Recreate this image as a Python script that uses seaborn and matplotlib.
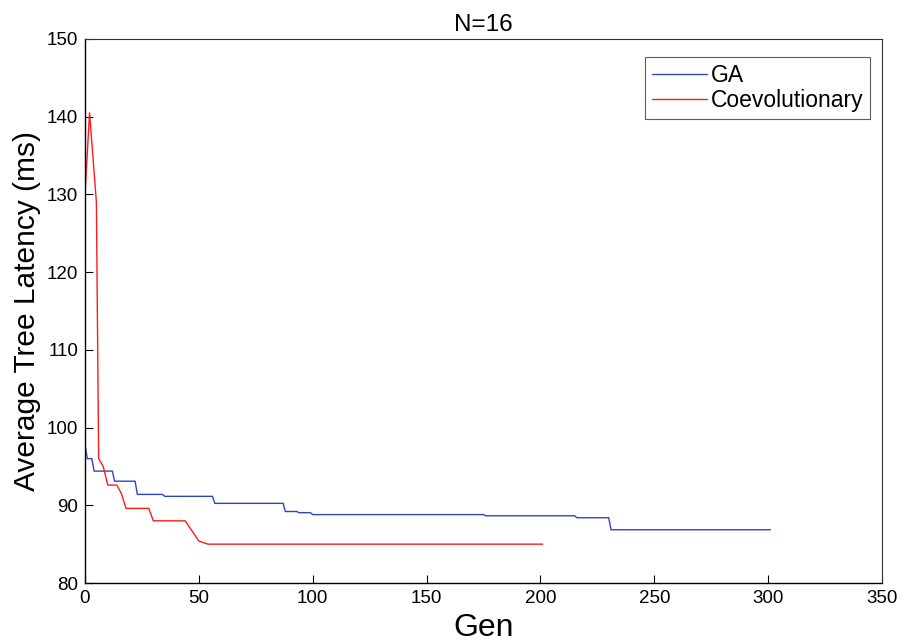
import matplotlib
matplotlib.use("Agg")
import matplotlib.pyplot as plt
import seaborn as sns
import pandas as pd

# Data
ga_gen = [0, 1, 3, 4, 12, 13, 22, 23, 34, 35, 56, 57, 87, 88, 93, 94, 99, 100,
          175, 176, 215, 216, 230, 231, 301]
ga_val = [97.8, 96.0, 96.0, 94.4, 94.4, 93.1, 93.1, 91.4, 91.4, 91.15, 91.15,
          90.25, 90.25, 89.2, 89.2, 89.05, 89.05, 88.8, 88.8, 88.65, 88.65,
          88.4, 88.4, 86.85, 86.85]

co_gen = [0, 2, 5, 6, 8, 10, 14, 16, 18, 28, 30, 44, 50, 54, 201]
co_val = [130.0, 140.5, 129.0, 96.0, 95.0, 92.6, 92.6, 91.5, 89.6, 89.6,
          88.0, 88.0, 85.4, 85.0, 85.0]

series_names = ["GA", "Coevolutionary"]
x_ticks = [0, 50, 100, 150, 200, 250, 300, 350]
y_ticks = [80, 90, 100, 110, 120, 130, 140, 150]

df_ga = pd.DataFrame({"Gen": ga_gen, "Latency": ga_val, "Series": series_names[0]})
df_co = pd.DataFrame({"Gen": co_gen, "Latency": co_val, "Series": series_names[1]})

sns.set_style("white")
plt.rcParams["font.family"] = ["Liberation Sans", "DejaVu Sans"]
plt.rcParams["text.color"] = "black"
plt.rcParams["axes.labelcolor"] = "black"

fig = plt.figure(figsize=(9.03, 6.42), dpi=100)
ax = fig.add_axes([85 / 903, 1 - 583 / 642, (882 - 85) / 903, (583 - 39) / 642])

sns.lineplot(data=df_ga, x="Gen", y="Latency", ax=ax, color="#2a48b8",
             lw=1.0, sort=False, estimator=None, label=series_names[0])
sns.lineplot(data=df_co, x="Gen", y="Latency", ax=ax, color="#ff1a1a",
             lw=1.0, sort=False, estimator=None, label=series_names[1])

ax.set_xlim(0, 350)
ax.set_ylim(80, 150)
ax.set_xticks(x_ticks)
ax.set_yticks(y_ticks)
ax.tick_params(axis="both", direction="in", length=6, width=0.8,
               labelsize=13.5, colors="black", labelcolor="black", pad=5,
               bottom=True, left=True, top=False, right=False)
for side in ["left", "bottom"]:
    ax.spines[side].set_color("black")
    ax.spines[side].set_linewidth(1.0)
for side in ["top", "right"]:
    ax.spines[side].set_color("#333333")
    ax.spines[side].set_linewidth(0.8)

ax.set_title("N=16", fontsize=17.5, pad=6, color="black")
ax.set_xlabel("Gen", fontsize=23, labelpad=4, color="black")
ax.set_ylabel("Average Tree Latency (ms)", fontsize=21.5, labelpad=4, color="black")

leg = ax.legend(loc="upper right", bbox_to_anchor=(0.985, 0.967),
                fontsize=16.5, frameon=True, fancybox=False,
                handlelength=2.4, handletextpad=0.15, labelspacing=0.1,
                borderpad=0.3, borderaxespad=0.0)
leg.get_frame().set_edgecolor("#333333")
leg.get_frame().set_linewidth(0.8)
for t in leg.get_texts():
    t.set_color("black")

fig.savefig("out.png", dpi=100)
